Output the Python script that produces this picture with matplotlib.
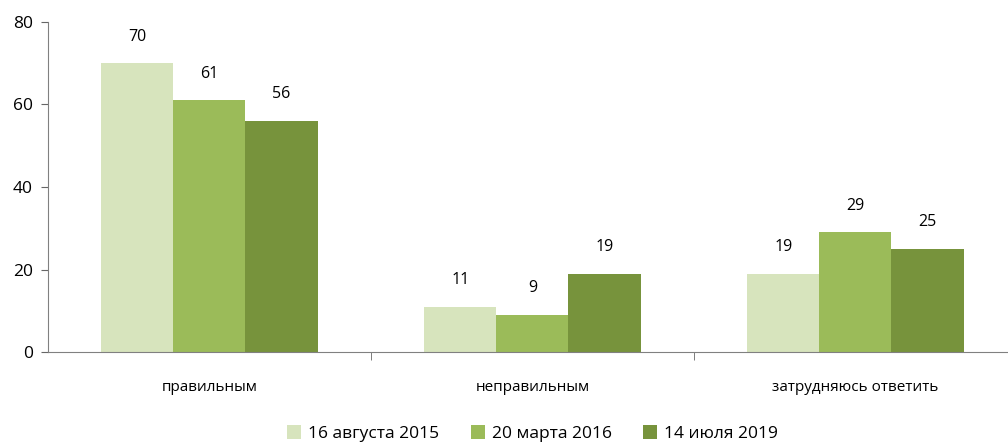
import numpy as np
import matplotlib.pyplot as plt

plt.rcParams['font.family'] = ['Open Sans', 'DejaVu Sans']

categories = ['правильным', 'неправильным', 'затрудняюсь ответить']
series_names = ['16 августа 2015', '20 марта 2016', '14 июля 2019']
values_2015 = [70, 11, 19]
values_2016 = [61, 9, 29]
values_2019 = [56, 19, 25]
colors = ['#D7E4BD', '#9BBB59', '#77933C']

fig = plt.figure(figsize=(10.08, 4.47), dpi=100)
# axes run a little past the right edge, as in the original
ax = fig.add_axes([0.0476, 0.2125, 0.9613, 0.7383])

x = np.arange(len(categories))
width = 0.223
all_values = [values_2015, values_2016, values_2019]
for i, (vals, name, col) in enumerate(zip(all_values, series_names, colors)):
    pos = x + (i - 1) * width
    bars = ax.bar(pos, vals, width, color=col, label=name, linewidth=0)
    for b, v in zip(bars, vals):
        ax.text(b.get_x() + b.get_width() / 2, v + 4.5, str(v),
                ha='center', va='bottom', fontsize=11.5)

ax.set_xlim(-0.5, 2.5)
ax.set_ylim(0, 80)
ax.set_yticks([0, 20, 40, 60, 80])
ax.set_xticks(x)
ax.set_xticklabels(categories, fontsize=11)
ax.tick_params(axis='x', length=0, pad=20)
ax.set_xticks([0.5, 1.5, 2.5], minor=True)
ax.tick_params(axis='x', which='minor', length=6, direction='out', color='#666666')
ax.tick_params(axis='y', labelsize=12.5, length=5, color='#666666', pad=6)

for s in ['top', 'right']:
    ax.spines[s].set_visible(False)
for s in ['left', 'bottom']:
    ax.spines[s].set_color('#808080')

ax.legend(loc='upper center', bbox_to_anchor=(0.5, -0.185), ncol=3, frameon=False,
          fontsize=12.5, handlelength=0.8, handleheight=0.8, handletextpad=0.4,
          columnspacing=1.8, borderpad=0.2)

fig.savefig('out.png', dpi=100)
